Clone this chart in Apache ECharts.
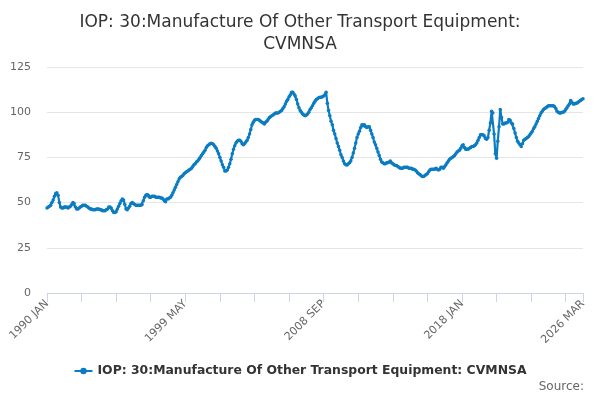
<!DOCTYPE html>
<html>
<head>
<meta charset="utf-8">
<script src="https://cdn.jsdelivr.net/npm/echarts@6/dist/echarts.min.js"></script>
<style>
  html, body { margin: 0; padding: 0; background: #fff; }
  #chart { width: 600px; height: 400px; }
</style>
</head>
<body>
<div id="chart"></div>
<script>
// monthly index, 1990 JAN .. 2026 MAR
var startYear = 1990;
var monthNames = ['JAN', 'FEB', 'MAR', 'APR', 'MAY', 'JUN', 'JUL', 'AUG', 'SEP', 'OCT', 'NOV', 'DEC'];
var seriesName = 'IOP: 30:Manufacture Of Other Transport Equipment: CVMNSA';

var values = [
  47, 47.5, 48, 48.5, 50, 51.5, 53.5, 55, 55.5, 54, 50, 47.5,                 // 1990
  47, 47, 47.5, 47.5, 47.5, 47, 47.5, 48, 49, 50, 49.5, 47.5,                 // 1991
  46.5, 46.5, 47, 47.5, 48, 48.5, 48.5, 48.5, 48, 47.5, 47, 46.5,             // 1992
  46.5, 46, 46, 46, 46.5, 46.5, 46.5, 46, 46, 45.5, 45.5, 45.5,               // 1993
  46, 46.5, 47.5, 47.5, 47, 45.5, 44.5, 44.5, 45, 46.5, 48, 49.5,             // 1994
  51, 52, 51.5, 49, 46.5, 46, 47, 48, 49.5, 50, 49.5, 49,                     // 1995
  48.5, 48.5, 48.5, 48.5, 48.5, 49, 51, 53, 54, 54.5, 54, 53,                 // 1996
  53, 53.5, 53.5, 53.5, 53, 53, 53, 53, 52.5, 52.5, 52, 51,                   // 1997
  50.5, 52, 52, 52.5, 53, 54, 55.5, 57, 58.5, 60, 61.5, 63,                   // 1998
  64, 64.5, 65, 66, 66.5, 67, 67.5, 68, 68.5, 69, 70, 71,                     // 1999
  71.5, 72.5, 73, 74, 75, 76, 77, 78, 79, 80.5, 81.5, 82,                     // 2000
  82.5, 82.8, 82.5, 82, 81, 80, 78.5, 77, 75, 73, 71, 69.5,                   // 2001
  67.5, 67.5, 68, 69.5, 71.5, 74, 77, 79.5, 81.5, 83, 84, 84.5,               // 2002
  84.5, 84, 82.5, 82, 82.5, 83.5, 84.5, 86, 88, 90.5, 93, 94.5,               // 2003
  95.5, 96, 96, 96, 95.5, 95, 94.5, 94, 93.5, 94.5, 95, 96,                   // 2004
  97, 97.5, 98, 98.5, 99, 99.5, 99.5, 99.5, 100, 100.5, 101, 102,             // 2005
  103, 104.5, 106, 107, 108.5, 109.5, 111, 111, 110, 109, 107, 104.5,         // 2006
  102.5, 101, 100, 99, 98.5, 98, 98.5, 99, 100, 101.5, 102.5, 103.5,          // 2007
  105, 106, 107, 107.5, 108, 108.3, 108.3, 108.5, 109, 109.5, 111, 105,       // 2008
  101, 98, 95, 93, 90, 88, 85.5, 83, 81, 79, 76.5, 75,                        // 2009
  73, 71.5, 71, 70.8, 71.5, 72, 73, 75, 77.5, 80, 83, 86,                     // 2010
  88, 89.5, 91.5, 93, 92.5, 93, 92, 91.5, 92, 92, 90, 88,                     // 2011
  86, 83.5, 82, 80, 78, 76, 74, 72.5, 72, 71.5, 71.5, 72,                     // 2012
  72, 72.5, 73, 72, 71.5, 71, 70.5, 70.5, 70, 69.5, 69, 69,                   // 2013
  69, 69.5, 69.5, 69.5, 69.5, 69, 69, 69, 68.5, 68.5, 68, 67.5,               // 2014
  66.5, 66, 65.5, 64.8, 64.5, 64.5, 65, 65.5, 66, 67, 68, 68.5,               // 2015
  68.5, 68.5, 68.5, 69, 68.5, 68, 68.5, 69.5, 69.5, 69, 70, 71,               // 2016
  72, 73, 74, 74.5, 75, 75.5, 76, 77, 78, 78.5, 79, 80,                       // 2017
  81.5, 82, 80.5, 79.5, 79.5, 79.5, 80, 80.5, 81, 81, 81.5, 82,               // 2018
  83, 84.5, 86, 87.5, 87.5, 87.5, 87, 85.5, 85, 86, 90, 94,                   // 2019
  100.5, 99.5, 88, 77, 74.5, 84, 92, 101.5, 97, 93.5, 93.5, 94,               // 2020
  94, 94.5, 96, 95.5, 94, 93.5, 91, 88.5, 86, 84, 83, 82,                     // 2021
  81, 82.5, 84.5, 85, 85.5, 86, 86.5, 87.5, 88.5, 89.5, 91, 92,               // 2022
  93.5, 95, 96.5, 98, 99.5, 100.5, 101.5, 102, 102.5, 103, 103.5, 103.5,      // 2023
  103.5, 103.5, 103.5, 103, 102, 100.5, 100, 99.5, 99.5, 100, 100, 100.5,     // 2024
  101.5, 102.5, 103.5, 104.5, 106.5, 105.5, 104.5, 104.5, 105, 105, 105.5, 106, // 2025
  106.5, 107, 107.5                                                           // 2026
];

var categories = [];
for (var i = 0; i < values.length; i++) {
  categories.push((startYear + Math.floor(i / 12)) + ' ' + monthNames[i % 12]);
}
var lastIdx = values.length - 1;

var myChart = echarts.init(document.getElementById('chart'));
var option = {
  textStyle: { fontFamily: 'DejaVu Sans' },
  title: [{
    text: 'IOP: 30:Manufacture Of Other Transport Equipment:\nCVMNSA',
    left: 'center',
    top: 7,
    textStyle: { fontSize: 17, fontWeight: 'normal', color: '#333', lineHeight: 22, fontFamily: 'DejaVu Sans' }
  }, {
    text: 'Source:',
    right: 11,
    bottom: 2,
    textStyle: { fontSize: 12, fontWeight: 'normal', color: '#666', fontFamily: 'DejaVu Sans' }
  }],
  legend: {
    data: [seriesName],
    bottom: 18,
    left: 'center',
    itemWidth: 18,
    itemHeight: 8,
    textStyle: { fontSize: 12.4, fontWeight: 'bold', color: '#333', fontFamily: 'DejaVu Sans' }
  },
  grid: { left: 47, right: 17, top: 67, bottom: 107 },
  xAxis: {
    type: 'category',
    boundaryGap: false,
    data: categories,
    axisLine: { lineStyle: { color: '#ccd6eb' } },
    axisTick: {
      length: 9,
      lineStyle: { color: '#ccd6eb' },
      interval: function (idx) { return idx % 28 === 0 || idx === lastIdx; }
    },
    axisLabel: {
      rotate: 45,
      color: '#666',
      fontSize: 11,
      margin: 9,
      interval: function (idx) { return idx % 112 === 0 || idx === lastIdx; }
    }
  },
  yAxis: {
    type: 'value',
    min: 0,
    max: 125,
    interval: 25,
    axisLine: { show: false },
    axisTick: { show: false },
    axisLabel: { color: '#666', fontSize: 11, margin: 16 },
    splitLine: { lineStyle: { color: '#e6e6e6' } }
  },
  series: [{
    name: seriesName,
    type: 'line',
    data: values,
    color: '#0b7cc1',
    lineStyle: { width: 2.2 },
    symbol: 'circle',
    symbolSize: 3.5,
    showSymbol: true,
    showAllSymbol: true,
    animation: false
  }]
};
myChart.setOption(option);
window.onresize = myChart.resize;
</script>
</body>
</html>
